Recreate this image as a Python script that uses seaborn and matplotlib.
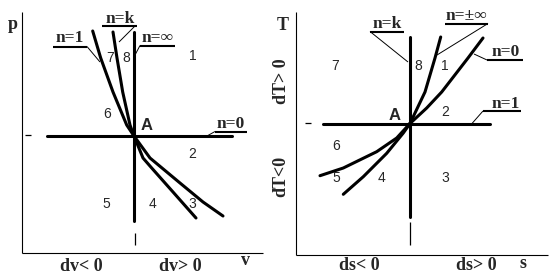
import matplotlib
matplotlib.use("Agg")
import matplotlib.pyplot as plt
import seaborn as sns
import pandas as pd

sns.set_theme(style="white")
plt.rcParams['font.family'] = ['Liberation Serif', 'DejaVu Serif']

# ---- data: curve points (figure pixel coordinates) ----
# p-v diagram
pv_n1_up_x = [92.7, 100.7, 113, 126.7, 134]
pv_n1_up_y = [31, 58, 92, 125, 136]
pv_nk_up_x = [113, 117, 122.7, 130, 134]
pv_nk_up_y = [32, 58, 92, 125, 136]
pv_n1_lo_x = [134, 150, 180, 203, 223]
pv_n1_lo_y = [136, 158, 183, 202, 216]
pv_nk_lo_x = [134, 143, 151.7, 173, 196]
pv_nk_lo_y = [136, 158, 168, 192, 218]
pv_n0_x = [47, 232]
pv_n0_y = [136, 136]
pv_ninf_x = [134, 134]
pv_ninf_y = [32, 221]

# T-s diagram
ts_nv_up_x = [410, 425, 435, 440.7]
ts_nv_up_y = [123.5, 92, 58, 37]
ts_np_up_x = [410, 426.7, 441.7, 468, 483]
ts_np_up_y = [123.5, 108, 92, 58, 38]
ts_np_lo_x = [410, 396.7, 376.7, 343.3, 320]
ts_np_lo_y = [123.5, 138, 151.7, 168, 175.7]
ts_nv_lo_x = [410, 403.3, 386.7, 363.3, 343.3]
ts_nv_lo_y = [123.5, 133, 153.3, 176.7, 194.3]
ts_n1_x = [323, 490]
ts_n1_y = [123.5, 123.5]
ts_nk_x = [410, 410]
ts_nk_y = [37, 217]

region_labels = ['1', '2', '3', '4', '5', '6', '7', '8']

fig = plt.figure(figsize=(5.5, 2.8), dpi=100)
ax = fig.add_axes([0, 0, 1, 1])
ax.set_xlim(0, 550)
ax.set_ylim(280, 0)
ax.axis('off')

def curve(xs, ys, lw=2.2):
    sns.lineplot(x=xs, y=ys, sort=False, estimator=None, color='black',
                 linewidth=lw, ax=ax, legend=False)

def seg(x0, y0, x1, y1, lw=0.8):
    ax.plot([x0, x1], [y0, y1], color='black', linewidth=lw,
            solid_capstyle='butt')

# ---- axes frames ----
seg(22, 12, 22, 252.5)
seg(22, 252.5, 263, 252.5)
seg(296, 12, 296, 255)
seg(296, 255, 548, 255)
# small marks
seg(25, 135, 31, 135, lw=0.9)
seg(305, 123, 311, 123, lw=0.9)
seg(134.5, 233, 134.5, 245, lw=0.9)
seg(410, 222, 410, 245, lw=0.9)

# ---- curves ----
for xs, ys in [(pv_n1_up_x, pv_n1_up_y), (pv_nk_up_x, pv_nk_up_y),
               (pv_n1_lo_x, pv_n1_lo_y), (pv_nk_lo_x, pv_nk_lo_y),
               (pv_n0_x, pv_n0_y), (pv_ninf_x, pv_ninf_y),
               (ts_nv_up_x, ts_nv_up_y), (ts_np_up_x, ts_np_up_y),
               (ts_np_lo_x, ts_np_lo_y), (ts_nv_lo_x, ts_nv_lo_y),
               (ts_n1_x, ts_n1_y), (ts_nk_x, ts_nk_y)]:
    curve(xs, ys)

# ---- labels with underline and leader ----
lab_kw = dict(fontsize=12.5, fontweight='bold', ha='center', va='baseline',
              family=['Liberation Serif', 'DejaVu Serif'])

def label(text, cx, base, ux0, ux1, uy, lx0, ly0, lx1, ly1):
    ax.text(cx, base, text, **lab_kw)
    seg(ux0, uy, ux1, uy, lw=1.5)
    seg(lx0, ly0, lx1, ly1, lw=0.7)

# p-v
label('n=1', 70, 42, 53, 87, 46.5, 87, 46.5, 100, 62)
label('n=k', 120, 23, 102, 137, 25.5, 135, 26, 119, 42)
label('n=\u221e', 158, 42, 140, 175, 45.5, 140, 45.5, 135, 55)
label('n=0', 231, 128, 215, 247, 131.5, 215, 131.5, 207, 136)
# T-s
label('n=k', 387, 28, 370, 404, 31.5, 370, 31.5, 408, 62)
label('n=\u00b1\u221e', 466.5, 20, 445, 488, 23.5, 488, 23.5, 437, 55)
label('n=0', 506, 56.5, 487, 523, 60, 487, 60, 474, 54)
label('n=1', 506, 108, 483, 521, 111, 483, 111, 472, 123.5)

# ---- point A ----
a_kw = dict(fontsize=12, fontweight='bold', ha='center', va='baseline',
            family=['Liberation Sans', 'DejaVu Sans'])
ax.text(146.5, 130, 'A', **a_kw)
ax.text(395, 120.5, 'A', **a_kw)

# ---- region numbers ----
num_kw = dict(fontsize=10, ha='center', va='baseline',
              family=['Liberation Sans', 'DejaVu Sans'])
pv_num_pos = {'1': (193, 60), '2': (192.5, 158), '3': (192.5, 208),
              '4': (152.5, 208), '5': (106, 208), '6': (106.7, 118),
              '7': (110, 61.5), '8': (126.7, 61.5)}
ts_num_pos = {'1': (445, 70), '2': (445, 116.5), '3': (445, 181.5),
              '4': (381.7, 181.5), '5': (336, 181.5), '6': (336, 150),
              '7': (335, 70), '8': (418.3, 70)}
for r in region_labels:
    ax.text(*pv_num_pos[r], r, **num_kw)
    ax.text(*ts_num_pos[r], r, **num_kw)

# ---- axis titles ----
ax_kw = dict(fontsize=13, fontweight='bold', ha='center', va='baseline',
             family=['Liberation Serif', 'DejaVu Serif'])
ax.text(12.5, 29, 'p', **ax_kw)
ax.text(245.8, 265, 'v', **ax_kw)
ax.text(81.7, 271, 'dv< 0', **ax_kw)
ax.text(180, 271, 'dv> 0', **ax_kw)
ax.text(283, 30, 'T', **ax_kw)
ax.text(523, 268, 's', **ax_kw)
ax.text(359, 269.5, 'ds< 0', **ax_kw)
ax.text(476, 269.5, 'ds> 0', **ax_kw)
ax.text(281, 81, 'dT> 0', fontsize=13, fontweight='bold', rotation=90,
        ha='center', va='center', family=['Liberation Serif', 'DejaVu Serif'])
ax.text(281, 176, 'dT<0', fontsize=13, fontweight='bold', rotation=90,
        ha='center', va='center', family=['Liberation Serif', 'DejaVu Serif'])

fig.savefig('out.png', dpi=100, facecolor='white')
